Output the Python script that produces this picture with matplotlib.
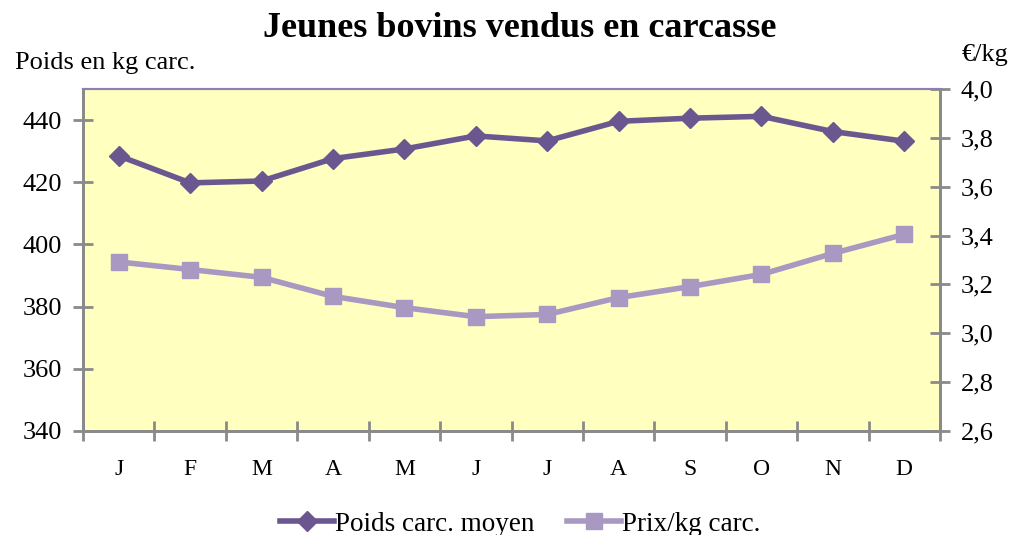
import numpy as np
import matplotlib.pyplot as plt

mois = ['J', 'F', 'M', 'A', 'M', 'J', 'J', 'A', 'S', 'O', 'N', 'D']
poids = [428.5, 419.8, 420.4, 427.6, 430.7, 434.9, 433.3, 439.6, 440.6, 441.2, 436.3, 433.2]
prix = [3.292, 3.261, 3.229, 3.151, 3.105, 3.068, 3.077, 3.146, 3.191, 3.241, 3.327, 3.405]

plt.rcParams['font.family'] = ['Liberation Serif', 'DejaVu Serif']

c_poids = '#6B5690'
c_prix = '#A898C2'
gris = '#8A8A8A'

fig = plt.figure(figsize=(10.1, 5.35), dpi=100)
ax = fig.add_axes([0.0822, 0.1944, 0.8485, 0.6393])
ax2 = ax.twinx()

x = np.arange(len(mois))
l1, = ax.plot(x, poids, color=c_poids, lw=4, marker='D', ms=10, label='Poids carc. moyen', zorder=3)
l2, = ax2.plot(x, prix, color=c_prix, lw=4, marker='s', ms=12, label='Prix/kg carc.', zorder=3)

ax.set_facecolor('#FFFFC0')
ax.set_xlim(-0.5, 11.5)
ax.set_ylim(340, 450)
ax2.set_ylim(2.6, 4.0)
ax.set_yticks(np.arange(340, 441, 20))
ax2.set_yticks(np.arange(2.6, 4.01, 0.2))
ax2.set_yticklabels([f'{v:.1f}'.replace('.', ',') for v in np.arange(2.6, 4.01, 0.2)])

# ticks aux limites des mois, étiquettes au centre
ax.set_xticks(np.arange(-0.5, 12, 1))
ax.set_xticklabels([])
ax.set_xticks(x, minor=True)
ax.set_xticklabels(mois, minor=True, fontsize=17)
ax.tick_params(axis='x', which='minor', length=0, pad=20)
ax.tick_params(axis='x', which='major', direction='inout', length=14, width=2, color=gris)
ax.tick_params(axis='y', direction='inout', length=14, width=2, color=gris, labelsize=19, pad=8)
ax2.tick_params(axis='y', direction='inout', length=14, width=2, color=gris, labelsize=19, pad=8)

for a in (ax, ax2):
    for s in ('left', 'right', 'bottom'):
        a.spines[s].set_color(gris)
        a.spines[s].set_linewidth(2)
    a.spines['top'].set_color('#8D7FAF')
    a.spines['top'].set_linewidth(1.5)

fig.text(0.515, 0.947, 'Jeunes bovins vendus en carcasse', ha='center', va='center',
         fontsize=26, fontweight='bold')
fig.text(0.015, 0.882, 'Poids en kg carc.', ha='left', va='center', fontsize=19)
fig.text(0.998, 0.897, '€/kg', ha='right', va='center', fontsize=19)

fig.legend(handles=[l1, l2], loc='center', bbox_to_anchor=(0.515, 0.02), ncol=2,
           frameon=False, fontsize=19.5, handlelength=2, handletextpad=0.05, columnspacing=1.2)

fig.savefig('out.png', dpi=100)
